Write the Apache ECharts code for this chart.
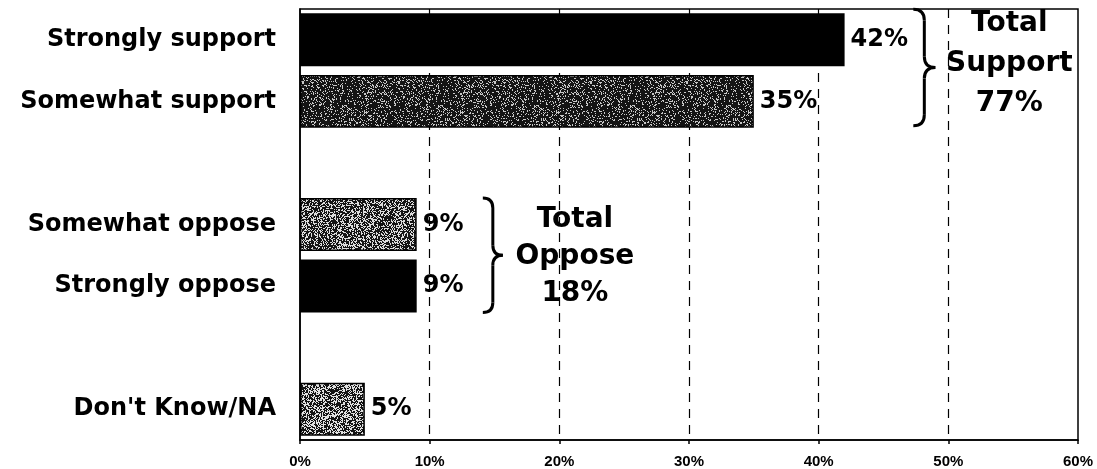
<!DOCTYPE html>
<html><head><meta charset="utf-8">
<script src="https://cdn.jsdelivr.net/npm/echarts@6/dist/echarts.min.js"></script>
<style>html,body{margin:0;padding:0;background:#fff}#c{width:1097px;height:469px}</style>
</head><body><div id="c"></div>
<script>
const categories = ['Strongly support','Somewhat support','','Somewhat oppose','Strongly oppose','','Don\'t Know/NA'];
const values = [42, 35, null, 9, 9, null, 5];
const tickValues = [0, 10, 20, 30, 40, 50, 60];
const supportTotal = 77;
const opposeTotal = 18;

// deterministic speckle textures (style only)
function speckle(density, seed, light) {
  const cv = document.createElement('canvas');
  cv.width = 96; cv.height = 96;
  const ctx = cv.getContext('2d');
  const img = ctx.createImageData(96, 96);
  let s = seed >>> 0;
  for (let i = 0; i < 96 * 96; i++) {
    s = (s * 1664525 + 1013904223) >>> 0;
    const r = s / 4294967296;
    const v = r < density ? 20 : light;
    img.data[i*4] = v; img.data[i*4+1] = v; img.data[i*4+2] = v; img.data[i*4+3] = 255;
  }
  ctx.putImageData(img, 0, 0);
  return cv;
}
const patDark = { image: speckle(0.80, 12345, 200), repeat: 'repeat' };
const patMid = { image: speckle(0.62, 777, 220), repeat: 'repeat' };
const patLight = { image: speckle(0.55, 4242, 225), repeat: 'repeat' };
const fills = ['#000', patDark, null, patMid, '#000', null, patLight];

const chart = echarts.init(document.getElementById('c'), null, { renderer: 'canvas' });
const FONT = 'DejaVu Sans';
chart.setOption({
  animation: false,
  grid: { left: 300, right: 19, top: 9, bottom: 29, show: true, borderColor: '#000', borderWidth: 1.5, containLabel: false },
  xAxis: {
    type: 'value', min: 0, max: 60, interval: 10,
    axisLine: { show: true, lineStyle: { color: '#000', width: 1.5 } },
    axisTick: { show: true, length: 4, inside: false, lineStyle: { color: '#000', width: 1.5 } },
    axisLabel: { formatter: '{value}%', color: '#000', fontFamily: 'Liberation Sans', fontWeight: 'bold', fontSize: 15, margin: 14 },
    splitLine: { show: true, showMinLine: false, showMaxLine: false, lineStyle: { color: '#000', width: 1.2, type: [9, 7] } }
  },
  yAxis: {
    type: 'category', data: categories, inverse: true,
    axisLine: { show: true, lineStyle: { color: '#000', width: 1.5 } },
    axisTick: { show: false },
    axisLabel: { color: '#000', fontFamily: FONT, fontWeight: 'bold', fontSize: 24, margin: 24 }
  },
  series: [{
    type: 'bar',
    data: values.map((v, i) => ({ value: v, itemStyle: { color: fills[i] || '#000', borderColor: '#000', borderWidth: fills[i] && typeof fills[i] === 'object' ? 1.5 : 0 } })),
    barCategoryGap: '14%',
    label: { show: true, position: 'right', distance: 6, formatter: p => p.value + '%', color: '#000', fontFamily: FONT, fontWeight: 'bold', fontSize: 24 }
  }]
});

const BS = { fill: null, stroke: '#000', lineWidth: 3 };
function brace(x, y0, y1, w) {
  const mid = (y0 + y1) / 2, r = w / 2;
  const xm = x + r;
  return {
    type: 'group', z: 100,
    children: [
      { type: 'bezierCurve', shape: { x1: x, y1: y0, cpx1: xm, cpy1: y0, x2: xm, y2: y0 + r }, style: BS },
      { type: 'line', shape: { x1: xm, y1: y0 + r, x2: xm, y2: mid - r }, style: BS },
      { type: 'bezierCurve', shape: { x1: xm, y1: mid - r, cpx1: xm, cpy1: mid, x2: x + w, y2: mid }, style: BS },
      { type: 'bezierCurve', shape: { x1: x + w, y1: mid, cpx1: xm, cpy1: mid, x2: xm, y2: mid + r }, style: BS },
      { type: 'line', shape: { x1: xm, y1: mid + r, x2: xm, y2: y1 - r }, style: BS },
      { type: 'bezierCurve', shape: { x1: xm, y1: y1 - r, cpx1: xm, cpy1: y1, x2: x, y2: y1 }, style: BS }
    ]
  };
}
function px(xv, cat) { return chart.convertToPixel({ gridIndex: 0 }, [xv, cat]); }
const slot = px(0, 1)[1] - px(0, 0)[1];
const half = slot * 0.43;

const sTop = px(47.3, 0)[1] - half - 4, sBot = px(47.3, 1)[1] + half - 2;
const sx = px(47.3, 0)[0];
const oTop = px(14.1, 3)[1] - half, oBot = px(14.1, 4)[1] + half;
const ox = px(14.1, 3)[0];
const sText = px(54.7, 0)[0], sMid = (px(0, 0)[1] + px(0, 1)[1]) / 2 - 7;
const oText = px(21.2, 3)[0], oMid = (px(0, 3)[1] + px(0, 4)[1]) / 2 + 1;

chart.setOption({
  graphic: [
    brace(sx, sTop, sBot, 22),
    brace(ox, oTop, oBot, 20),
    { type: 'text', x: sText, y: sMid, z: 100, style: { text: 'Total\nSupport\n' + supportTotal + '%', fill: '#000', font: 'bold 28px "DejaVu Sans"', align: 'center', verticalAlign: 'middle', lineHeight: 40 } },
    { type: 'text', x: oText, y: oMid, z: 100, style: { text: 'Total\nOppose\n' + opposeTotal + '%', fill: '#000', font: 'bold 28px "DejaVu Sans"', align: 'center', verticalAlign: 'middle', lineHeight: 37 } }
  ]
});
</script></body></html>
